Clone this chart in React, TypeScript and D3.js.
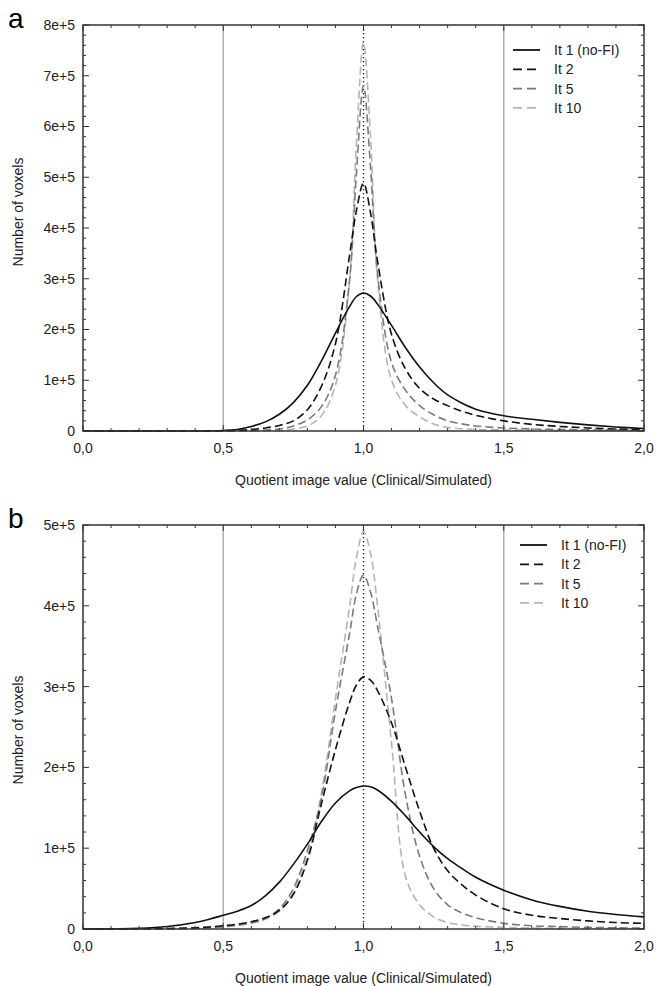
import * as d3 from "d3";

// x positions shared by every curve (quotient value)
const xGrid = [0, 0.1, 0.2, 0.3, 0.4, 0.45, 0.5, 0.55, 0.6, 0.65, 0.7, 0.75, 0.8, 0.85, 0.9, 0.95, 0.975, 1.0, 1.025, 1.05, 1.1, 1.15, 1.2, 1.25, 1.3, 1.35, 1.4, 1.5, 1.6, 1.7, 1.8, 1.9, 2.0];

// panel a, values in units of 1e5 voxels
const aIt1 = [0, 0, 0, 0, 0, 0.003, 0.01, 0.03, 0.09, 0.18, 0.33, 0.56, 0.9, 1.38, 1.93, 2.45, 2.65, 2.72, 2.66, 2.5, 2.08, 1.64, 1.26, 0.95, 0.71, 0.55, 0.43, 0.3, 0.23, 0.17, 0.12, 0.08, 0.05];
const aIt2 = [0, 0, 0, 0, 0, 0.002, 0.005, 0.015, 0.03, 0.06, 0.11, 0.2, 0.42, 0.88, 1.72, 3.45, 4.35, 4.88, 4.3, 3.35, 1.9, 1.22, 0.84, 0.63, 0.5, 0.39, 0.31, 0.2, 0.13, 0.09, 0.06, 0.04, 0.03];
const aIt5 = [0, 0, 0, 0, 0, 0, 0.002, 0.005, 0.01, 0.02, 0.04, 0.1, 0.22, 0.48, 1.1, 2.95, 5.1, 6.8, 5.2, 3.1, 1.35, 0.8, 0.5, 0.32, 0.2, 0.14, 0.1, 0.06, 0.04, 0.03, 0.02, 0.015, 0.01];
const aIt10 = [0, 0, 0, 0, 0, 0, 0, 0, 0.003, 0.005, 0.01, 0.04, 0.1, 0.3, 0.9, 2.95, 5.7, 7.65, 5.8, 3.0, 1.0, 0.5, 0.28, 0.14, 0.07, 0.045, 0.03, 0.02, 0.015, 0.01, 0.01, 0.01, 0.01];

// panel b
const bIt1 = [0, 0.003, 0.008, 0.03, 0.08, 0.12, 0.17, 0.22, 0.29, 0.41, 0.58, 0.8, 1.05, 1.33, 1.56, 1.71, 1.75, 1.77, 1.76, 1.72, 1.58, 1.4, 1.2, 1.02, 0.87, 0.75, 0.64, 0.48, 0.36, 0.28, 0.22, 0.18, 0.15];
const bIt2 = [0, 0.001, 0.003, 0.006, 0.015, 0.025, 0.04, 0.06, 0.09, 0.14, 0.23, 0.43, 0.85, 1.55, 2.22, 2.8, 3.02, 3.12, 3.08, 2.95, 2.55, 2.0, 1.46, 1.0, 0.72, 0.55, 0.42, 0.25, 0.17, 0.13, 0.1, 0.08, 0.07];
const bIt5 = [0, 0.001, 0.002, 0.004, 0.01, 0.02, 0.03, 0.05, 0.08, 0.13, 0.25, 0.5, 0.97, 1.62, 2.7, 3.65, 4.15, 4.38, 4.17, 3.75, 2.85, 1.65, 0.9, 0.5, 0.3, 0.2, 0.14, 0.07, 0.04, 0.03, 0.02, 0.015, 0.01];
const bIt10 = [0, 0.001, 0.002, 0.003, 0.008, 0.015, 0.025, 0.04, 0.07, 0.12, 0.22, 0.45, 0.9, 1.68, 2.85, 3.98, 4.6, 4.92, 4.65, 4.0, 2.3, 0.65, 0.3, 0.15, 0.08, 0.05, 0.035, 0.02, 0.012, 0.008, 0.006, 0.005, 0.004];

const seriesNames = ["It 1 (no-FI)", "It 2", "It 5", "It 10"];
const seriesColors = ["#111", "#111", "#7a7a7a", "#b5b5b5"];
const seriesDash = ["none", "8,4", "8,4", "8,4"];

const xTickLabels = ["0,0", "0,5", "1,0", "1,5", "2,0"];
const aYTickLabels = ["0", "1e+5", "2e+5", "3e+5", "4e+5", "5e+5", "6e+5", "7e+5", "8e+5"];
const bYTickLabels = ["0", "1e+5", "2e+5", "3e+5", "4e+5", "5e+5"];

const FONT = "Liberation Sans, Arial, sans-serif";
const LEFT = 83;
const RIGHT = 644;

function Panel({ letter, top, bottom, yMax, yLabels, data, legendX, legendY, titleY }) {
  const x = d3.scaleLinear().domain([0, 2]).range([LEFT, RIGHT]);
  const y = d3.scaleLinear().domain([0, yMax]).range([bottom, top]);
  const line = d3
    .line()
    .x((d) => x(d[0]))
    .y((d) => Math.min(bottom, y(d[1])))
    .curve(d3.curveCatmullRom.alpha(0.5));

  const xMinor = d3.range(0, 21).map((i) => i / 10);
  const yMinor = d3.range(0, yMax * 5 + 1).map((i) => i / 5);

  return (
    <g>
      <text x={8} y={top + 3} fontSize={28} fontFamily={FONT}>{letter}</text>

      {/* reference lines */}
      {[0.5, 1.5].map((v) => (
        <line key={v} x1={x(v)} x2={x(v)} y1={top} y2={bottom} stroke="#b0b0b0" strokeWidth={1.5} />
      ))}
      <line x1={x(1)} x2={x(1)} y1={top} y2={bottom} stroke="#111" strokeWidth={1.3} strokeDasharray="1.3,2.7" />

      {/* curves */}
      {data.map((vals, i) => (
        <path
          key={i}
          d={line(xGrid.map((xv, j) => [xv, vals[j]]))}
          fill="none"
          stroke={seriesColors[i]}
          strokeWidth={1.6}
          strokeDasharray={seriesDash[i]}
        />
      )).reverse()}

      {/* ticks */}
      {xMinor.map((v, i) => {
        const len = i % 5 === 0 ? 6 : 3;
        return (
          <g key={"xt" + i} stroke="#333" strokeWidth={1}>
            <line x1={x(v)} x2={x(v)} y1={bottom} y2={bottom - len} />
            <line x1={x(v)} x2={x(v)} y1={top} y2={top + len} />
          </g>
        );
      })}
      {yMinor.map((v, i) => {
        const len = i % 5 === 0 ? 6 : 3;
        return (
          <g key={"yt" + i} stroke="#333" strokeWidth={1}>
            <line x1={LEFT} x2={LEFT + len} y1={y(v)} y2={y(v)} />
            <line x1={RIGHT} x2={RIGHT - len} y1={y(v)} y2={y(v)} />
          </g>
        );
      })}

      <rect x={LEFT} y={top} width={RIGHT - LEFT} height={bottom - top} fill="none" stroke="#333" strokeWidth={1.5} />

      {/* tick labels */}
      {xTickLabels.map((t, i) => (
        <text key={t} x={x(i * 0.5)} y={bottom + 22} fontSize={14} fontFamily={FONT} textAnchor="middle" fill="#222">{t}</text>
      ))}
      {yLabels.map((t, i) => (
        <text key={t} x={75} y={y(i)} dy="0.35em" fontSize={14} fontFamily={FONT} textAnchor="end" fill="#222">{t}</text>
      ))}

      <text x={x(1)} y={bottom + 54} fontSize={14} fontFamily={FONT} textAnchor="middle" fill="#222">
        Quotient image value (Clinical/Simulated)
      </text>
      <text transform={`translate(23,${titleY}) rotate(-90)`} fontSize={14} fontFamily={FONT} textAnchor="middle" fill="#222">
        Number of voxels
      </text>

      {/* legend */}
      {seriesNames.map((name, i) => (
        <g key={name} transform={`translate(${legendX},${legendY + i * 19.3})`}>
          <line x1={0} x2={27} y1={0} y2={0} stroke={seriesColors[i]} strokeWidth={1.8} strokeDasharray={i === 0 ? "none" : "9,5"} />
          <text x={41} y={0} dy="0.35em" fontSize={14} fontFamily={FONT} fill="#222">{name}</text>
        </g>
      ))}
    </g>
  );
}

export default function App() {
  return (
    <svg width={657} height={986} style={{ position: "absolute", left: 0, top: 0, background: "#fff" }}>
      <rect width={657} height={986} fill="#fff" />
      <Panel letter="a" top={25} bottom={431} yMax={8} yLabels={aYTickLabels} data={[aIt1, aIt2, aIt5, aIt10]} legendX={513} legendY={50} titleY={212} />
      <Panel letter="b" top={525} bottom={929} yMax={5} yLabels={bYTickLabels} data={[bIt1, bIt2, bIt5, bIt10]} legendX={520} legendY={545} titleY={730} />
    </svg>
  );
}
